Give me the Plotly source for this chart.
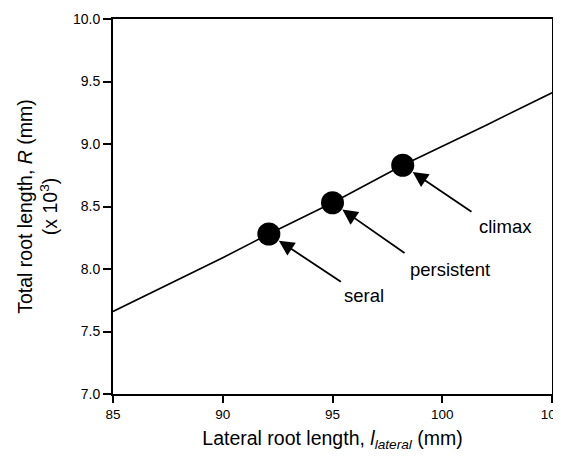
import plotly.graph_objects as go

# Curve (lateral root length vs total root length x10^3)
curve_x = [85, 87, 90, 92.1, 95, 98.2, 100, 102, 105]
curve_y = [7.66, 7.83, 8.09, 8.28, 8.53, 8.83, 8.98, 9.15, 9.41]

# Marked points
point_labels = ["seral", "persistent", "climax"]
point_x = [92.1, 95.0, 98.2]
point_y = [8.28, 8.53, 8.83]

# Arrow tails (data coords) and label positions (data coords)
arrow_tail_x = [95.45, 98.35, 101.4]
arrow_tail_y = [7.89, 8.12, 8.45]
label_x = [96.44, 100.36, 102.86]
label_y = [7.79, 8.00, 8.34]

xticks = [85, 90, 95, 100, 105]
yticks = [7.0, 7.5, 8.0, 8.5, 9.0, 9.5, 10.0]

FONT = "Liberation Sans, Arial, Helvetica, sans-serif"

fig = go.Figure()
fig.add_trace(go.Scatter(x=curve_x, y=curve_y, mode="lines",
                         line=dict(color="black", width=1.6), hoverinfo="skip"))
fig.add_trace(go.Scatter(x=point_x, y=point_y, mode="markers",
                         marker=dict(color="black", size=23, line=dict(width=0)),
                         text=point_labels, hoverinfo="text"))

for i, lab in enumerate(point_labels):
    fig.add_annotation(x=point_x[i], y=point_y[i], ax=arrow_tail_x[i], ay=arrow_tail_y[i],
                       xref="x", yref="y", axref="x", ayref="y", text="",
                       showarrow=True, arrowhead=2, arrowsize=1.7, arrowwidth=1.8,
                       arrowcolor="black", standoff=12)
    fig.add_annotation(x=label_x[i], y=label_y[i], xref="x", yref="y", text=lab,
                       showarrow=False, font=dict(size=18.5, color="black", family=FONT),
                       xanchor="center", yanchor="middle")

fig.update_layout(
    width=561, height=457,
    margin=dict(l=105, r=17, t=11, b=71),
    paper_bgcolor="white", plot_bgcolor="white",
    showlegend=False,
    font=dict(family=FONT, color="black"),
)
fig.update_xaxes(range=[85, 105], tickvals=xticks, ticktext=[str(v) for v in xticks],
                 ticks="outside", ticklen=7, tickwidth=1.5, tickcolor="black",
                 showline=True, linecolor="black", linewidth=2, mirror=True,
                 showgrid=False, zeroline=False, tickfont=dict(size=13.5),
                 automargin=False,
                 title=dict(text="Lateral root length, <i>l<sub>lateral</sub></i> (mm)",
                            font=dict(size=19.5), standoff=10))
fig.update_yaxes(range=[7.0, 10.0], tickvals=yticks, ticktext=[f"{v:.1f}" for v in yticks],
                 ticks="outside", ticklen=8, tickwidth=1.5, tickcolor="black",
                 showline=True, linecolor="black", linewidth=2, mirror=True,
                 showgrid=False, zeroline=False, tickfont=dict(size=14),
                 automargin=False,
                 title=dict(text="Total root length, <i>R</i> (mm)<br>(x 10<sup>3</sup>)",
                            font=dict(size=19.5), standoff=10))

fig.write_html("out.html")
